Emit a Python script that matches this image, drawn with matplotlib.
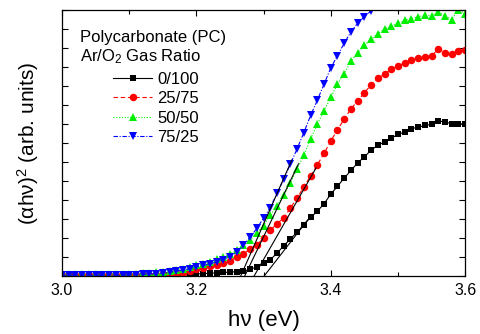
import numpy as np
import matplotlib
matplotlib.use("Agg")
import matplotlib.pyplot as plt
from matplotlib.ticker import MultipleLocator, NullFormatter

plt.rcParams['font.family'] = ['Liberation Sans', 'DejaVu Sans']
plt.rcParams['mathtext.fontset'] = 'custom'
plt.rcParams['mathtext.rm'] = 'Liberation Sans'
plt.rcParams['mathtext.it'] = 'Liberation Sans:italic'

# photon energy (eV)
energy = [3.00, 3.01, 3.02, 3.03, 3.04, 3.05, 3.06, 3.07, 3.08, 3.09,
          3.10, 3.11, 3.12, 3.13, 3.14, 3.15, 3.16, 3.17, 3.18, 3.19,
          3.20, 3.21, 3.22, 3.23, 3.24, 3.25, 3.26, 3.27, 3.28, 3.29,
          3.30, 3.31, 3.32, 3.33, 3.34, 3.35, 3.36, 3.37, 3.38, 3.39,
          3.40, 3.41, 3.42, 3.43, 3.44, 3.45, 3.46, 3.47, 3.48, 3.49,
          3.50, 3.51, 3.52, 3.53, 3.54, 3.55, 3.56, 3.57, 3.58, 3.59, 3.60]

r_0_100 = [0.02, 0.02, 0.02, 0.02, 0.02, 0.02, 0.02, 0.02, 0.02, 0.02,
           0.02, 0.02, 0.02, 0.02, 0.02, 0.02, 0.02, 0.03, 0.05, 0.08,
           0.10, 0.12, 0.14, 0.16, 0.18, 0.20, 0.22, 0.25, 0.35, 0.47,
           0.68, 0.85, 1.20, 1.58, 1.95, 2.30, 2.70, 3.08, 3.40, 3.80,
           4.30, 4.72, 5.15, 5.55, 5.95, 6.27, 6.62, 6.88, 7.05, 7.25,
           7.45, 7.57, 7.75, 7.83, 7.92, 7.98, 8.15, 8.12, 8.00, 8.00, 8.00]

r_25_75 = [0.03, 0.03, 0.03, 0.03, 0.03, 0.03, 0.03, 0.03, 0.03, 0.03,
           0.03, 0.03, 0.04, 0.05, 0.06, 0.08, 0.10, 0.13, 0.17, 0.25,
           0.35, 0.42, 0.50, 0.58, 0.68, 0.80, 1.00, 1.17, 1.40, 1.63,
           2.00, 2.40, 2.75, 3.05, 3.58, 4.10, 4.70, 5.25, 5.85, 6.45,
           7.10, 7.70, 8.25, 8.80, 9.20, 9.65, 10.05, 10.40, 10.62, 10.88,
           11.05, 11.22, 11.35, 11.45, 11.55, 11.58, 11.95, 11.75, 11.68, 11.85, 11.90]

r_50_50 = [0.10, 0.10, 0.10, 0.10, 0.10, 0.10, 0.10, 0.10, 0.10, 0.10,
           0.10, 0.12, 0.14, 0.17, 0.20, 0.23, 0.27, 0.32, 0.38, 0.45,
           0.55, 0.63, 0.75, 0.88, 1.00, 1.15, 1.37, 1.60, 1.90, 2.26,
           2.65, 3.20, 3.70, 4.25, 4.90, 5.65, 6.35, 7.20, 8.00, 8.70,
           9.40, 10.10, 10.65, 11.30, 11.75, 12.15, 12.45, 12.75, 13.00, 13.15,
           13.30, 13.45, 13.55, 13.65, 13.72, 13.70, 13.90, 13.70, 13.50, 14.00, 13.80]

r_75_25 = [0.03, 0.03, 0.03, 0.03, 0.03, 0.03, 0.03, 0.03, 0.03, 0.03,
           0.05, 0.07, 0.08, 0.10, 0.12, 0.15, 0.20, 0.25, 0.30, 0.38,
           0.47, 0.55, 0.63, 0.72, 0.85, 1.00, 1.25, 1.60, 2.05, 2.50,
           3.05, 3.60, 4.35, 5.10, 5.90, 6.70, 7.55, 8.45, 9.25, 10.10,
           10.95, 11.60, 12.25, 12.85, 13.30, 13.65, 13.95, 14.30, 14.60, 14.90,
           15.20]

labels = ["0/100", "25/75", "50/50", "75/25"]
series = [r_0_100, r_25_75, r_50_50, r_75_25]

# linear fits (Tauc extrapolation): start energy at zero, end energy, end value
fit_E0 = [3.301, 3.286, 3.272, 3.266]
fit_E1 = [3.368, 3.378, 3.352, 3.342]
fit_Y1 = [3.05, 5.68, 5.90, 6.10]

colors = ["black", "red", "#00ee00", "blue"]
markers = ["s", "o", "^", "v"]
msizes = [4.8, 5.4, 6.0, 6.0]
lstyles = ["-", (0, (4, 2.5)), (0, (1, 1.5)), (0, (4, 1.5, 1, 1.5))]

fig = plt.figure(figsize=(4.81, 3.34), dpi=100)
ax = fig.add_axes([0.129, 0.174, 0.838, 0.796])

handles = []
for y, c, m, ms, ls, lab in zip(series, colors, markers, msizes, lstyles, labels):
    h, = ax.plot(energy[:len(y)], y, color=c, marker=m, markersize=ms,
                 linestyle=ls, linewidth=0.8, markeredgewidth=0, label=lab,
                 clip_on=True)
    handles.append(h)

for e0, e1, y1 in zip(fit_E0, fit_E1, fit_Y1):
    ax.plot([e0, e1], [0, y1], color="black", linewidth=0.8)

ax.set_xlim(3.0, 3.6)
ax.set_ylim(0, 14)
ax.xaxis.set_major_locator(MultipleLocator(0.2))
ax.xaxis.set_minor_locator(MultipleLocator(0.1))
ax.yaxis.set_major_locator(MultipleLocator(1))
ax.yaxis.set_major_formatter(NullFormatter())
ax.set_xticks([3.0, 3.2, 3.4, 3.6])
ax.set_xticklabels(["3.0", "3.2", "3.4", "3.6"])
ax.tick_params(which="both", direction="in", top=True, right=True, width=0.8)
ax.tick_params(which="major", length=4.5, labelsize=11.5, pad=5)
ax.tick_params(which="minor", length=3)
for s in ax.spines.values():
    s.set_linewidth(0.9)

ax.set_xlabel("hν (eV)", fontsize=16, labelpad=9)
ax.set_ylabel("(αhν)$^2$ (arb. units)", fontsize=15, labelpad=10)

ax.text(0.045, 0.898, "Polycarbonate (PC)", transform=ax.transAxes,
        fontsize=12, va="center", ha="left")
ax.text(0.045, 0.823, "Ar/O$_2$ Gas Ratio", transform=ax.transAxes,
        fontsize=12, va="center", ha="left")
leg = ax.legend(handles=handles, loc="upper left", bbox_to_anchor=(0.1266, 0.767),
                frameon=False, fontsize=12, handlelength=2.35, handletextpad=0.3,
                labelspacing=0.26, borderaxespad=0, borderpad=0)

fig.savefig("out.png", dpi=100)
